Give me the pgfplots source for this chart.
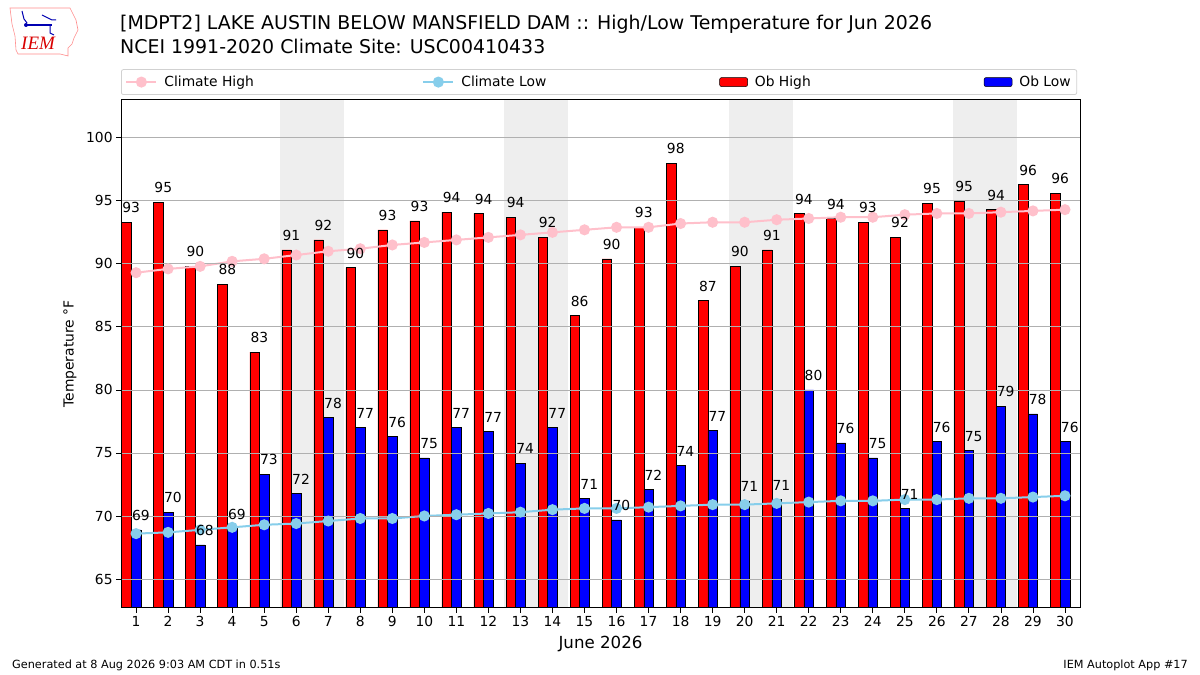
\documentclass[border=0pt]{standalone}
\usepackage{pgfplots}
\usepackage{pgfplotstable}
\pgfplotsset{compat=1.18}
\usepackage{fontspec}
\setmainfont{DejaVu Sans}
\newfontfamily\logofont{Liberation Serif}
\definecolor{cpink}{HTML}{FFC0CB}
\definecolor{csky}{HTML}{87CEEB}
\definecolor{wkend}{HTML}{EEEEEE}
\definecolor{gridc}{HTML}{B0B0B0}

\pgfplotstableread{
d hi lo chi clo
1 93.3 68.9 89.3 68.6
2 94.9 70.3 89.6 68.7
3 89.8 67.7 89.8 68.9
4 88.4 69.0 90.2 69.1
5 83.0 73.3 90.4 69.3
6 91.1 71.8 90.7 69.4
7 91.9 77.8 91.0 69.6
8 89.7 77.0 91.2 69.8
9 92.7 76.3 91.5 69.8
10 93.4 74.6 91.7 70.0
11 94.1 77.0 91.9 70.1
12 94.0 76.7 92.1 70.2
13 93.7 74.2 92.3 70.3
14 92.1 77.0 92.5 70.5
15 85.9 71.4 92.7 70.6
16 90.4 69.7 92.9 70.6
17 92.9 72.1 92.9 70.7
18 98.0 74.0 93.2 70.8
19 87.1 76.8 93.3 70.9
20 89.8 71.2 93.3 70.9
21 91.1 71.3 93.5 71.0
22 94.0 80.0 93.6 71.1
23 93.6 75.8 93.7 71.2
24 93.3 74.6 93.7 71.2
25 92.1 70.6 93.9 71.3
26 94.8 75.9 94.0 71.3
27 95.0 75.2 94.0 71.4
28 94.3 78.7 94.1 71.4
29 96.3 78.1 94.2 71.5
30 95.6 75.9 94.3 71.6
}\data

\begin{document}
\begin{tikzpicture}[x=1bp,y=1bp]
\useasboundingbox (0,0) rectangle (1200,675);
\fill[white] (0,0) rectangle (1200,675);

% logo
\draw[red!45, line width=0.6bp] (10,667) -- (70,667) -- (72,663) -- (76,655) -- (78,645) -- (74,637) -- (72,631) -- (68,627) -- (68,619) -- (60,621) -- (18,621) -- (16,625) -- (15,639) -- (12,651) -- cycle;
\draw[blue!70!black, line width=1.2bp] (26,650) -- (52,650);
\draw[blue!70!black, line width=1bp] (22,664) -- (24,656) -- (27,652);
\draw[blue!70!black, line width=1bp] (42,660) -- (52,655) -- (56,655);
\draw[blue!70!black, line width=1bp] (50,650) -- (50,642) -- (54,640);
\fill[blue!70!black] (26,650) circle (2bp);
\node[anchor=base west, inner sep=0pt, text=red!85!black, font=\logofont\itshape\fontsize{19}{21}\selectfont] at (21,625) {IEM};

% titles
\node[anchor=base west, inner sep=0pt, font=\fontsize{19}{23}\selectfont] at (120,645) {[MDPT2] LAKE AUSTIN BELOW MANSFIELD DAM :: High/Low Temperature for Jun 2026};
\node[anchor=base west, inner sep=0pt, font=\fontsize{19}{23}\selectfont] at (120,621.5) {NCEI 1991-2020 Climate Site: USC00410433};

% footer
\node[anchor=base west, inner sep=0pt, font=\fontsize{11.3}{13}\selectfont] at (12,6) {Generated at 8 Aug 2026 9:03 AM CDT in 0.51s};
\node[anchor=base east, inner sep=0pt, font=\fontsize{11.3}{13}\selectfont] at (1188,6) {IEM Autoplot App \#17};

\begin{axis}[
  at={(121bp,67bp)}, anchor=south west, scale only axis,
  width=959bp, height=508bp,
  xmin=0.53, xmax=30.47, ymin=62.7, ymax=103,
  xtick={1,...,30}, ytick={65,70,...,100},
  ymajorgrids, grid style={color=gridc, line width=0.8bp},
  axis on top,
  axis line style={black, line width=1bp},
  tick align=outside, major tick length=4.9bp,
  tick style={black, line width=0.8bp},
  xtick pos=bottom, ytick pos=left,
  ticklabel style={font=\fontsize{13.9}{16}\selectfont},
  /pgf/number format/assume math mode=true,
  xlabel={June 2026}, ylabel={Temperature °F},
  xlabel style={at={(axis description cs:0.5,-0.0709)}, anchor=center, font=\fontsize{16.7}{19}\selectfont},
  ylabel style={at={(axis description cs:-0.0532,0.5)}, anchor=center, font=\fontsize{13.9}{16}\selectfont},
  legend columns=4,
  legend cell align=left,
  legend style={at={(axis description cs:0,1)}, anchor=south west, yshift=5bp,
    draw=black!18, rounded corners=2bp, fill=white, line width=0.8bp,
    inner xsep=4bp, inner ysep=4.5bp,
    font=\fontsize{13.9}{16}\selectfont,
    column sep=0pt},
]
\addlegendimage{cpink, line width=2bp, legend image code/.code={\draw[cpink, line width=2bp] (0bp,0bp) -- (30bp,0bp); \fill[cpink] (15bp,0bp) circle (4.5bp);}}
\addlegendentry{\hspace{5bp}\makebox[256bp][l]{Climate High}}
\addlegendimage{csky, line width=2bp, legend image code/.code={\draw[csky, line width=2bp] (0bp,0bp) -- (30bp,0bp); \fill[csky] (15bp,0bp) circle (4.5bp);}}
\addlegendentry{\hspace{5bp}\makebox[256bp][l]{Climate Low}}
\addlegendimage{legend image code/.code={\draw[fill=red, draw=black, line width=0.5bp] (0bp,-4.5bp) rectangle (28bp,4.5bp);}}
\addlegendentry{\hspace{5bp}\makebox[227bp][l]{Ob High}}
\addlegendimage{legend image code/.code={\draw[fill=blue, draw=black, line width=0.5bp] (0bp,-4.5bp) rectangle (28bp,4.5bp);}}
\addlegendentry{\hspace{5bp}Ob Low\hspace{4bp}}

% weekend shading
\addplot[fill=wkend, draw=none, forget plot] coordinates {(5.5,60) (7.5,60) (7.5,105) (5.5,105)} -- cycle;
\addplot[fill=wkend, draw=none, forget plot] coordinates {(12.5,60) (14.5,60) (14.5,105) (12.5,105)} -- cycle;
\addplot[fill=wkend, draw=none, forget plot] coordinates {(19.5,60) (21.5,60) (21.5,105) (19.5,105)} -- cycle;
\addplot[fill=wkend, draw=none, forget plot] coordinates {(26.5,60) (28.5,60) (28.5,105) (26.5,105)} -- cycle;

% bars
\addplot[ybar, bar width=0.3, bar shift=-0.3, fill=red, draw=black, line width=0.5bp, forget plot] table[x=d, y=hi] {\data};
\addplot[ybar, bar width=0.3, bar shift=0, fill=blue, draw=black, line width=0.5bp, forget plot] table[x=d, y=lo] {\data};

% climate lines
\addplot[cpink, line width=2bp, mark=*, mark size=4.5bp, mark options={fill=cpink, draw=cpink}, forget plot] table[x=d, y=chi] {\data};
\addplot[csky, line width=2bp, mark=*, mark size=4.5bp, mark options={fill=csky, draw=csky}, forget plot] table[x=d, y=clo] {\data};

% value labels
\addplot[draw=none, mark=none, forget plot,
  nodes near coords={\pgfmathprintnumber[fixed,precision=0]{\pgfplotspointmeta}},
  every node near coord/.append style={font=\fontsize{13.9}{16}\selectfont, anchor=south, inner sep=0pt, yshift=9bp, text=black}]
  table[x expr=\thisrow{d}-0.15, y=hi] {\data};
\addplot[draw=none, mark=none, forget plot,
  nodes near coords={\pgfmathprintnumber[fixed,precision=0]{\pgfplotspointmeta}},
  every node near coord/.append style={font=\fontsize{13.9}{16}\selectfont, anchor=south, inner sep=0pt, yshift=9bp, text=black}]
  table[x expr=\thisrow{d}+0.15, y=lo] {\data};
\end{axis}
\end{tikzpicture}
\end{document}
